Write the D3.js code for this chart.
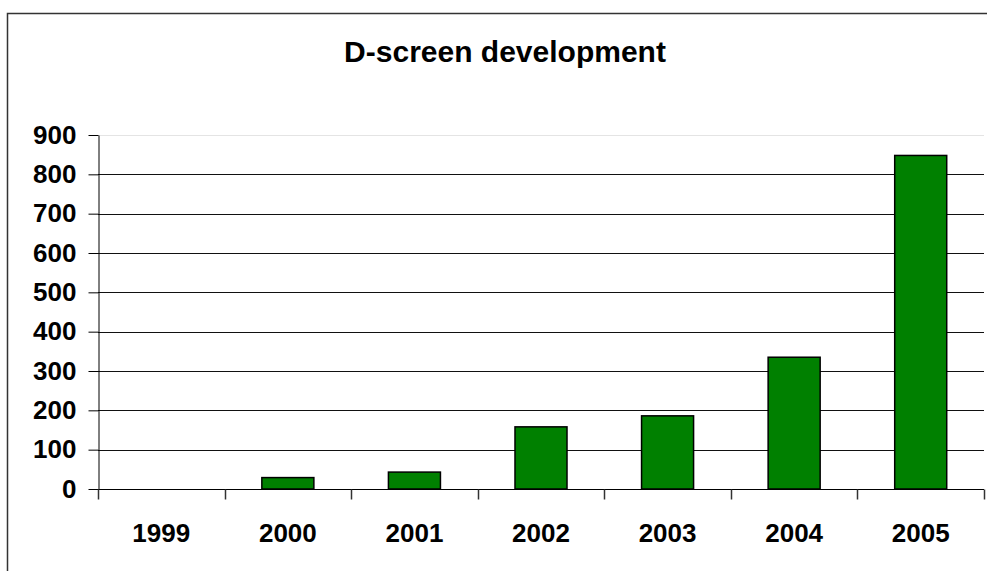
<!DOCTYPE html>
<html>
<head>
<meta charset="utf-8">
<script src="https://cdn.jsdelivr.net/npm/d3@7"></script>
<style>
  html, body { margin: 0; padding: 0; background: #fff; }
  svg { display: block; }
  text { font-family: "Liberation Sans", Arial, sans-serif; font-weight: bold; fill: #000; }
</style>
</head>
<body>
<svg id="chart" width="987" height="571"></svg>
<script>
const title = "D-screen development";
const categories = ["1999", "2000", "2001", "2002", "2003", "2004", "2005"];
const values = [0, 29, 43, 158, 186, 335, 848];
const yTicks = [0, 100, 200, 300, 400, 500, 600, 700, 800, 900];

const svg = d3.select("#chart");
const W = 987, H = 571;
const plot = { left: 98, right: 984, top: 135, bottom: 489 };

svg.append("rect").attr("width", W).attr("height", H).attr("fill", "#fff");
// outer chart border (right/bottom edges fall outside the visible frame)
svg.append("rect")
  .attr("x", 7.5).attr("y", 13.5)
  .attr("width", W + 20).attr("height", H + 20)
  .attr("fill", "none").attr("stroke", "#333").attr("stroke-width", 1.5);

const x = d3.scaleBand().domain(categories).range([plot.left, plot.right]).paddingInner(0.589).paddingOuter(0.2945);
const xOuter = d3.scaleBand().domain(categories).range([plot.left, plot.right]).padding(0);
const y = d3.scaleLinear().domain([0, 900]).range([plot.bottom, plot.top]);

// gridlines
svg.append("g").selectAll("line").data(yTicks.filter(d => d > 0)).join("line")
  .attr("x1", plot.left).attr("x2", plot.right)
  .attr("y1", d => Math.round(y(d)) + 0.5).attr("y2", d => Math.round(y(d)) + 0.5)
  .attr("stroke", d => d === 900 ? "#e4e4e4" : "#111").attr("stroke-width", 1);

// y axis
const yAxis = svg.append("g").attr("transform", `translate(${plot.left + 0.5},0)`)
  .call(d3.axisLeft(y).tickValues(yTicks).tickSize(10).tickSizeOuter(0).tickPadding(12).tickFormat(d3.format("d")));
yAxis.select(".domain").attr("stroke", "#000");
yAxis.selectAll(".tick line").attr("stroke", "#000");
yAxis.selectAll("text").attr("font-size", 26).attr("font-family", "Liberation Sans, Arial, sans-serif").attr("font-weight", "bold").attr("fill", "#000");

// x axis
const xAxisG = svg.append("g").attr("transform", `translate(0,${Math.round(y(0)) + 0.5})`);
xAxisG.append("line").attr("x1", plot.left).attr("x2", plot.right).attr("stroke", "#000");
const boundaries = categories.map(c => xOuter(c)).concat([plot.right]);
xAxisG.selectAll("line.tk").data(boundaries).join("line").attr("class", "tk")
  .attr("x1", d => Math.round(d) + 0.5).attr("x2", d => Math.round(d) + 0.5)
  .attr("y1", 0).attr("y2", 10).attr("stroke", "#333").attr("stroke-width", 1.5);
xAxisG.selectAll("text").data(categories).join("text")
  .attr("x", d => xOuter(d) + xOuter.bandwidth() / 2)
  .attr("y", 52)
  .attr("text-anchor", "middle")
  .attr("font-size", 26)
  .text(d => d);

// bars
svg.append("g").selectAll("rect").data(values.map((v, i) => ({ c: categories[i], v })).filter(d => d.v > 0)).join("rect")
  .attr("x", d => x(d.c))
  .attr("y", d => y(d.v))
  .attr("width", x.bandwidth())
  .attr("height", d => y(0) - y(d.v))
  .attr("fill", "#008000")
  .attr("stroke", "#000")
  .attr("stroke-width", 1.5);

// title
svg.append("text")
  .attr("x", 505).attr("y", 62)
  .attr("text-anchor", "middle")
  .attr("font-size", 30)
  .text(title);
</script>
</body>
</html>
